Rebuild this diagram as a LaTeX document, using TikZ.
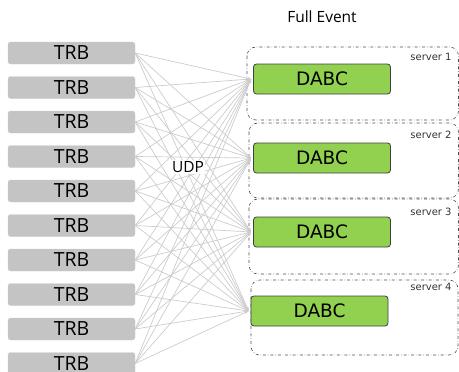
\documentclass[tikz,border=0pt]{standalone}
\usepackage{fontspec}
\setmainfont{Open Sans}
\newfontfamily\dv{DejaVu Sans}
\usetikzlibrary{arrows.meta}
\definecolor{trbgray}{HTML}{C4C4C4}
\definecolor{dabcgreen}{HTML}{92D050}
\definecolor{linkgray}{HTML}{CCCCCC}
\tikzset{
  trb/.style={draw=trbgray!80!white, fill=trbgray, rounded corners=2.5pt, minimum width=127pt, minimum height=22pt, inner sep=0pt, font=\fontsize{19.5}{20}\selectfont},
  dabc/.style={draw=black!75, fill=dabcgreen, rounded corners=3pt, minimum width=137pt, minimum height=30pt, inner sep=0pt, line width=0.8pt, font=\dv\fontsize{18.5}{20}\selectfont},
  server/.style={draw=black!70, dash dot, rounded corners=9pt, line width=0.6pt},
  srvlabel/.style={font=\dv\fontsize{10}{11}\selectfont, text=black!80},
  link/.style={draw=linkgray, line width=0.7pt, -{Stealth[length=4pt,width=3pt]}}
}
\begin{document}
\begin{tikzpicture}[x=1pt,y=-1pt]
\useasboundingbox (0,0) rectangle (459,372);
\clip (0,0) rectangle (459,372);
\node[font=\fontsize{15.5}{16}\selectfont] (title) at (322,17) {Full Event};
% servers
\draw[server] (247,47) rectangle (458.5,120);
\draw[server] (249,123) rectangle (458.5,198);
\draw[server] (249,199) rectangle (458.5,274);
\draw[server] (251,280) rectangle (458,355);
\node[srvlabel] (s1) at (431,57) {server 1};
\node[srvlabel] (s2) at (431,135) {server 2};
\node[srvlabel] (s3) at (431,212) {server 3};
\node[srvlabel] (s4) at (431,287) {server 4};
% DABC
\node[dabc] (d1) at (322,79) {DABC};
\node[dabc] (d2) at (322,158) {DABC};
\node[dabc] (d3) at (322,232) {DABC};
\node[dabc] (d4) at (319.5,311) {DABC};
% TRB
\foreach \i in {0,...,9} {
  \node[trb] (t\i) at (71.5,{53+34.5*\i}) {TRB};
}
% links
\foreach \i in {0,...,9} {
  \foreach \j in {1,...,4} {
    \draw[link] (t\i.east) -- ([xshift=-2pt]d\j.west);
  }
}
\node[fill=white, inner sep=1pt, font=\fontsize{15.5}{16}\selectfont] (udp) at (188,167) {UDP};
\end{tikzpicture}
\end{document}
